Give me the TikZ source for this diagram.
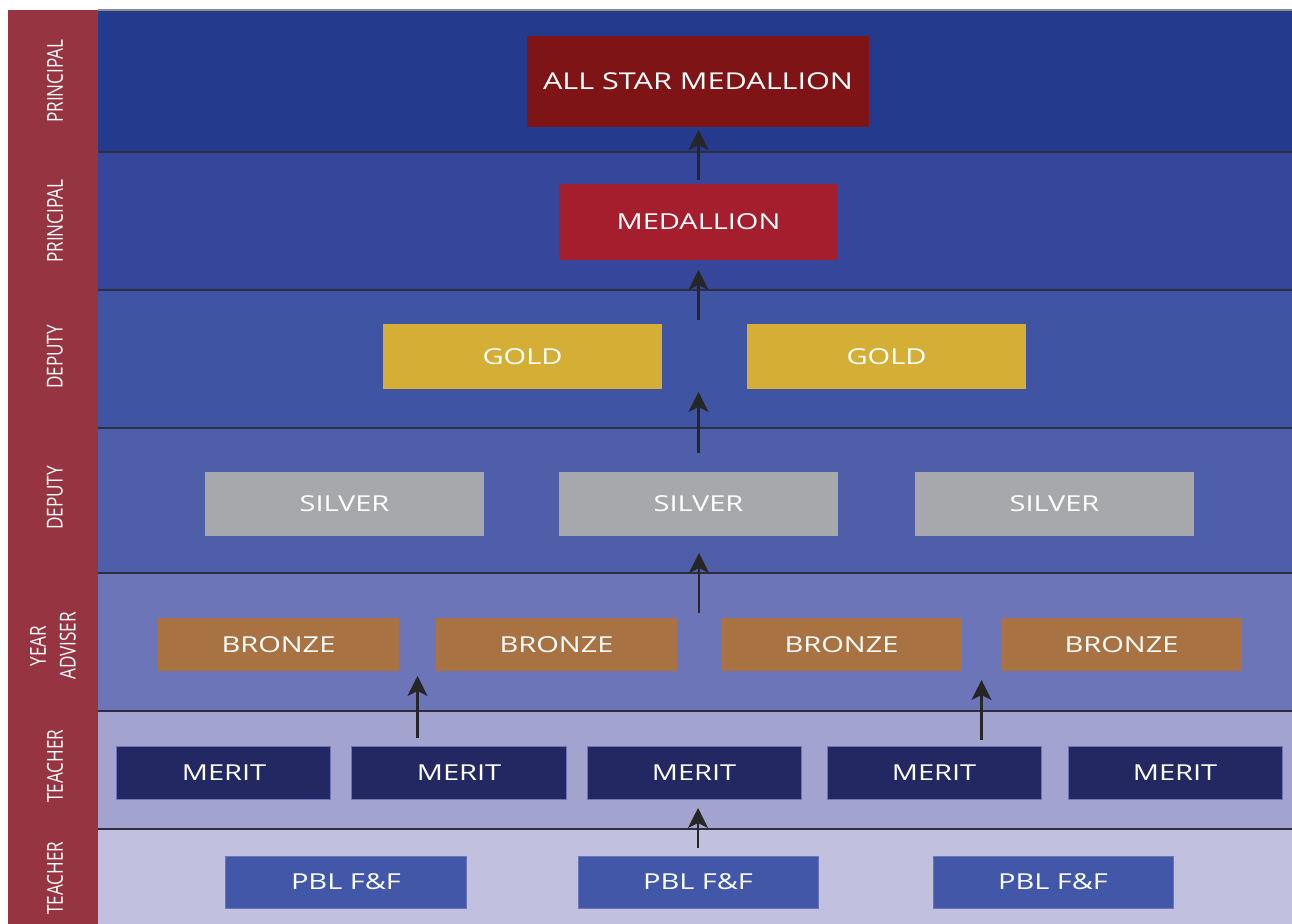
\documentclass[tikz,border=0pt]{standalone}
\usepackage{fontspec}
\newfontfamily\awardfont{Open Sans}[FakeStretch=1.32]
\newfontfamily\rolefont{Open Sans}[FakeStretch=0.78]
\usepackage{tikz}
\usetikzlibrary{positioning, arrows.meta, calc}

\definecolor{band1}{HTML}{243A8C}
\definecolor{band2}{HTML}{36479B}
\definecolor{band3}{HTML}{3F55A3}
\definecolor{band4}{HTML}{4E5EA9}
\definecolor{band5}{HTML}{6C75B8}
\definecolor{band6}{HTML}{A3A3D0}
\definecolor{band7}{HTML}{C1C0DF}
\definecolor{bandline}{HTML}{2E2E40}
\definecolor{rolered}{HTML}{963441}
\definecolor{allstarred}{HTML}{7F1417}
\definecolor{medalred}{HTML}{A51E2D}
\definecolor{goldfill}{HTML}{D4AE35}
\definecolor{silverfill}{HTML}{A7A8AB}
\definecolor{bronzefill}{HTML}{A87242}
\definecolor{meritblue}{HTML}{232863}
\definecolor{pblblue}{HTML}{4257A8}

\tikzset{award node/.style={rectangle,text=white,inner sep=0pt,outer sep=0pt,font=\awardfont\fontsize{12.5}{15}\selectfont},
         allstar node/.style={award node,fill=allstarred,minimum width=68.4mm,minimum height=18.2mm,font=\awardfont\fontsize{13.2}{16}\selectfont},
         medal node/.style={award node,fill=medalred,minimum width=55.8mm,minimum height=15.2mm},
         gold node/.style={award node,fill=goldfill,minimum width=55.8mm,minimum height=13mm},
         silver node/.style={award node,fill=silverfill,minimum width=55.8mm,minimum height=12.8mm},
         bronze node/.style={award node,fill=bronzefill,minimum width=48.2mm,minimum height=10.6mm},
         merit node/.style={award node,fill=meritblue,draw=band5,line width=0.2mm,minimum width=42.8mm,minimum height=10.6mm},
         pbl node/.style={award node,fill=pblblue,draw=band5,line width=0.2mm,minimum width=48mm,minimum height=10.4mm},
         role node/.style={rotate=90,text=white,align=center,inner sep=0pt,font=\rolefont\fontsize{12.5}{17}\selectfont},
         up arrow/.style={-{Stealth[length=4mm,width=4mm,inset=1mm]},line width=0.45mm,draw=black!85}}

\begin{document}
\begin{tikzpicture}[x=0.2mm,y=-0.2mm]
            \useasboundingbox (0,0) rectangle (1292,924);
            \fill[white] (0,0) rectangle (1292,924);

            % bands
            \foreach \top/\bot/\col in {10/152/band1,152/290/band2,290/428/band3,428/573/band4,573/711/band5,711/829/band6,829/924/band7}
                \fill[\col] (98,\top) rectangle (1292,\bot);
            \draw[line width=0.3mm,draw=black!45] (98,10) -- (1292,10);
            \foreach \y in {152,290,428,573,711,829}
                \draw[line width=0.4mm,draw=bandline] (98,\y) -- (1292,\y);
            \fill[rolered] (8,10) rectangle (98,924);

            % roles
            \node[role node] (role1) at (55,81) {PRINCIPAL};
            \node[role node] (role2) at (55,221) {PRINCIPAL};
            \node[role node] (role3) at (55,357) {DEPUTY};
            \node[role node] (role4) at (55,498) {DEPUTY};
            \node[role node] (role5) at (53,646) {YEAR\\ADVISER};
            \node[role node] (role6) at (55,766) {TEACHER};
            \node[role node] (role7) at (55,878) {TEACHER};

            % awards
            \node[allstar node] (allstar) at (698,81.5) {ALL STAR MEDALLION};
            \node[medal node] (medal) at (698.5,222) {MEDALLION};
            \node[gold node] (gold1) at (522.5,356.5) {GOLD};
            \node[gold node] (gold2) [right = 17mm of gold1] {GOLD};
            \node[silver node] (silver2) at (698.5,504) {SILVER};
            \node[silver node] (silver1) [left = 15mm of silver2] {SILVER};
            \node[silver node] (silver3) [right = 15.4mm of silver2] {SILVER};
            \node[bronze node] (bronze2) at (556.5,644.5) {BRONZE};
            \node[bronze node] (bronze1) [left = 7.4mm of bronze2] {BRONZE};
            \node[bronze node] (bronze3) [right = 8.8mm of bronze2] {BRONZE};
            \node[bronze node] (bronze4) [right = 7.8mm of bronze3] {BRONZE};
            \node[merit node] (merit3) at (694,772.5) {MERIT};
            \node[merit node] (merit2) [left = 4.2mm of merit3] {MERIT};
            \node[merit node] (merit1) [left = 4.2mm of merit2] {MERIT};
            \node[merit node] (merit4) [right = 5.2mm of merit3] {MERIT};
            \node[merit node] (merit5) [right = 5.4mm of merit4] {MERIT};
            \node[pbl node] (pbl2) at (698,882) {PBL F\&F};
            \node[pbl node] (pbl1) [left = 22.4mm of pbl2] {PBL F\&F};
            \node[pbl node] (pbl3) [right = 23mm of pbl2] {PBL F\&F};

            % gaps between boxes
            \coordinate (g12) at ($(gold1.north east)!0.5!(gold2.north west)$);
            \coordinate (g12s) at ($(gold1.south east)!0.5!(gold2.south west)$);
            \coordinate (b12) at ($(bronze1.south east)!0.5!(bronze2.south west)$);
            \coordinate (b23) at ($(bronze2.north east)!0.5!(bronze3.north west)$);
            \coordinate (b34) at ($(bronze3.south east)!0.5!(bronze4.south west)$);

            \draw[up arrow,shorten <=0.8mm,shorten >=0.6mm] (medal.north) -- (medal.north |- allstar.south);
            \draw[up arrow,shorten <=0.8mm,shorten >=2mm] (medal.south |- g12) -- (medal.south);
            \draw[up arrow,shorten <=3.8mm,shorten >=0.6mm] (silver2.north) -- (silver2.north |- g12s);
            \draw[up arrow,shorten <=1mm,shorten >=3.4mm] (b23) -- (b23 |- silver2.south);
            \draw[up arrow,shorten <=1.6mm,shorten >=1mm] (b12 |- merit2.north) -- (b12);
            \draw[up arrow,shorten <=1.2mm,shorten >=1.8mm] (b34 |- merit4.north) -- (b34);
            \draw[up arrow,shorten <=1.6mm,shorten >=1.8mm] (pbl2.north) -- (pbl2.north |- merit3.south);
\end{tikzpicture}
\end{document}
